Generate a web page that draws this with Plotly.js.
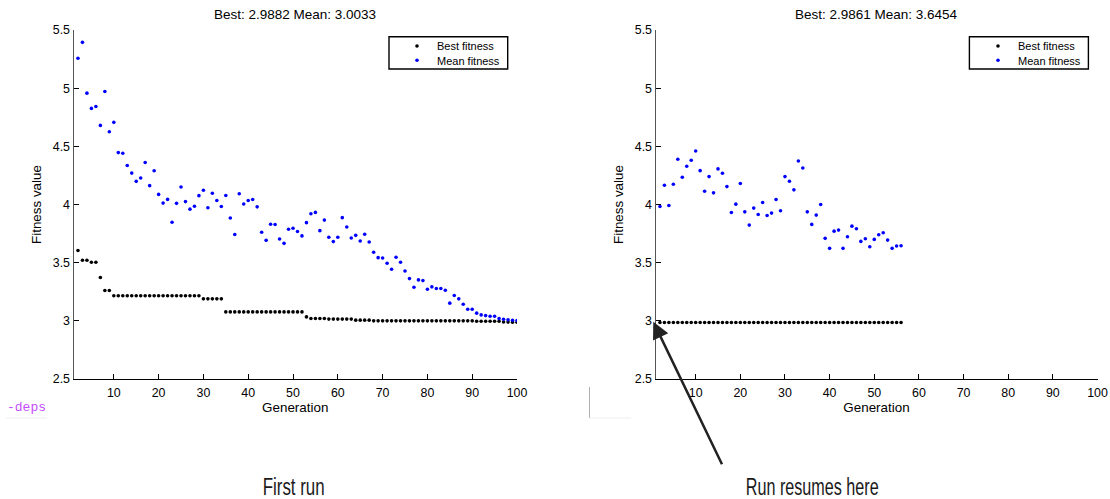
<!DOCTYPE html>
<html><head><meta charset="utf-8">
<script src="https://cdn.plot.ly/plotly-3.0.1.min.js"></script>
<style>html,body{margin:0;padding:0;background:#fff;} #chart{width:1110px;height:499px;}</style>
</head><body><div id="chart"></div>
<script>
// ---- Data ----
const firstRunGenerations = [
  2,3,4,5,6,7,8,9,10,11,
  12,13,14,15,16,17,18,19,20,21,
  22,23,24,25,26,27,28,29,30,31,
  32,33,34,35,36,37,38,39,40,41,
  42,43,44,45,46,47,48,49,50,51,
  52,53,54,55,56,57,58,59,60,61,
  62,63,64,65,66,67,68,69,70,71,
  72,73,74,75,76,77,78,79,80,81,
  82,83,84,85,86,87,88,89,90,91,
  92,93,94,95,96,97,98,99,100
];
const firstRunBest = [
  3.605,3.521,3.521,3.504,3.504,3.372,3.261,3.261,3.215,3.215,
  3.215,3.215,3.215,3.215,3.215,3.215,3.215,3.215,3.215,3.215,
  3.215,3.215,3.215,3.215,3.215,3.215,3.215,3.215,3.189,3.189,
  3.189,3.189,3.189,3.077,3.077,3.077,3.077,3.077,3.077,3.077,
  3.077,3.077,3.077,3.077,3.077,3.077,3.077,3.077,3.077,3.077,
  3.077,3.034,3.020,3.020,3.020,3.020,3.015,3.015,3.015,3.015,
  3.015,3.015,3.006,3.006,3.006,3.006,3.000,3.000,3.000,3.000,
  3.000,3.000,3.000,3.000,3.000,3.000,3.000,3.000,3.000,3.000,
  3.000,3.000,3.000,3.000,3.000,3.000,3.000,3.000,3.000,2.997,
  2.997,2.997,2.997,2.997,2.997,2.990,2.989,2.9885,2.9882
];
const firstRunMean = [
  5.257,5.394,4.957,4.826,4.843,4.680,4.971,4.626,4.706,4.446,
  4.440,4.335,4.270,4.199,4.228,4.361,4.162,4.290,4.087,4.012,
  4.044,3.848,4.010,4.150,4.025,3.960,3.985,4.076,4.122,3.972,
  4.097,4.034,3.983,4.078,3.884,3.742,4.092,4.004,4.034,4.043,
  3.980,3.761,3.692,3.830,3.828,3.703,3.666,3.787,3.796,3.768,
  3.730,3.844,3.921,3.932,3.775,3.866,3.718,3.681,3.718,3.887,
  3.806,3.712,3.735,3.686,3.744,3.678,3.589,3.543,3.540,3.495,
  3.443,3.546,3.503,3.429,3.363,3.289,3.352,3.346,3.272,3.292,
  3.278,3.278,3.263,3.152,3.218,3.189,3.143,3.100,3.100,3.066,
  3.051,3.045,3.039,3.040,3.020,3.014,3.009,3.004,3.0033
];
const resumedGenerations = [
  2,3,4,5,6,7,8,9,10,11,
  12,13,14,15,16,17,18,19,20,21,
  22,23,24,25,26,27,28,29,30,31,
  32,33,34,35,36,37,38,39,40,41,
  42,43,44,45,46,47,48,49,50,51,
  52,53,54,55,56
];
const resumedBest = [
  2.9861,2.9861,2.9861,2.9861,2.9861,2.9861,2.9861,2.9861,2.9861,2.9861,
  2.9861,2.9861,2.9861,2.9861,2.9861,2.9861,2.9861,2.9861,2.9861,2.9861,
  2.9861,2.9861,2.9861,2.9861,2.9861,2.9861,2.9861,2.9861,2.9861,2.9861,
  2.9861,2.9861,2.9861,2.9861,2.9861,2.9861,2.9861,2.9861,2.9861,2.9861,
  2.9861,2.9861,2.9861,2.9861,2.9861,2.9861,2.9861,2.9861,2.9861,2.9861,
  2.9861,2.9861,2.9861,2.9861,2.9861
];
const resumedMean = [
  3.983,4.166,3.991,4.174,4.389,4.234,4.329,4.380,4.460,4.291,
  4.114,4.240,4.100,4.306,4.269,4.154,3.931,4.003,4.180,3.937,
  3.823,3.969,3.914,4.017,3.906,3.926,4.043,3.946,4.240,4.200,
  4.126,4.374,4.314,3.937,3.829,3.909,4.000,3.709,3.623,3.771,
  3.780,3.623,3.723,3.814,3.791,3.683,3.706,3.637,3.700,3.740,
  3.757,3.694,3.623,3.643,3.6454
];
const xTickVals = [10,20,30,40,50,60,70,80,90,100];
const yTickVals = [2.5,3,3.5,4,4.5,5,5.5];
const yTickText = ['2.5','3','3.5','4','4.5','5','5.5'];
const titleLeft = 'Best: 2.9882 Mean: 3.0033';
const titleRight = 'Best: 2.9861 Mean: 3.6454';
const seriesNames = ['Best fitness','Mean fitness'];
const captionLeft = 'First run';
const captionRight = 'Run resumes here';

// ---- Styling ----
const W = 1110, H = 499;
const px = v => v / W;
const py = v => (H - v) / H;
const sans = 'Liberation Sans, Arial, Helvetica, sans-serif';
const narrow = 'Liberation Sans Narrow, Liberation Sans, sans-serif';
const mk = c => ({color: c, size: 3.6, symbol: 'circle'});

const traces = [
  {x: firstRunGenerations, y: firstRunBest, name: seriesNames[0], mode: 'markers', marker: mk('#000000'), xaxis: 'x', yaxis: 'y', legend: 'legend'},
  {x: firstRunGenerations, y: firstRunMean, name: seriesNames[1], mode: 'markers', marker: mk('#0000ff'), xaxis: 'x', yaxis: 'y', legend: 'legend2'},
  {x: resumedGenerations, y: resumedBest, name: seriesNames[0], mode: 'markers', marker: mk('#000000'), xaxis: 'x2', yaxis: 'y2', legend: 'legend3'},
  {x: resumedGenerations, y: resumedMean, name: seriesNames[1], mode: 'markers', marker: mk('#0000ff'), xaxis: 'x2', yaxis: 'y2', legend: 'legend4'}
];

function xAx(domain, anchor) {
  return {domain, anchor, range: [1, 100], tickmode: 'array', tickvals: xTickVals,
    ticks: 'inside', ticklen: 5, tickcolor: '#000', tickwidth: 1,
    showline: true, linecolor: '#000', linewidth: 1, showgrid: false, zeroline: false,
    tickfont: {family: sans, size: 12.4, color: '#000'}, ticklabelstandoff: 2,
    title: {text: 'Generation', font: {family: sans, size: 13.4, color: '#000'}, standoff: 1}};
}
function yAx(anchor) {
  return {domain: [py(379), py(30)], anchor, range: [2.5, 5.5], tickmode: 'array',
    tickvals: yTickVals, ticktext: yTickText,
    ticks: 'inside', ticklen: 5, tickcolor: '#000', tickwidth: 1,
    showline: true, linecolor: '#555', linewidth: 1, showgrid: false, zeroline: false,
    tickfont: {family: sans, size: 12.4, color: '#000'},
    title: {text: 'Fitness value', font: {family: sans, size: 13.4, color: '#000'}, standoff: 8}};
}
const legendStyle = (xPix, yPix) => ({x: px(xPix), y: py(yPix), xanchor: 'left', yanchor: 'middle',
  bgcolor: 'rgba(0,0,0,0)', borderwidth: 0, font: {family: sans, size: 11, color: '#000'},
  itemwidth: 30});

const layout = {
  width: W, height: H, margin: {l: 0, r: 0, t: 0, b: 0},
  paper_bgcolor: '#fff', plot_bgcolor: '#fff', showlegend: true,
  font: {family: sans, size: 12, color: '#000'},
  xaxis: xAx([px(73.5), px(517)], 'y'),
  yaxis: yAx('x'),
  xaxis2: xAx([px(655.5), px(1097.5)], 'y2'),
  yaxis2: yAx('x2'),
  legend: legendStyle(397, 46),
  legend2: legendStyle(397, 60.3),
  legend3: legendStyle(978, 46),
  legend4: legendStyle(978, 60.3),
  annotations: [
    {text: titleLeft, xref: 'paper', yref: 'paper', x: px(295.25), y: py(14.3), showarrow: false, xanchor: 'center', yanchor: 'middle', font: {family: sans, size: 13.5, color: '#000'}},
    {text: titleRight, xref: 'paper', yref: 'paper', x: px(876.5), y: py(14.3), showarrow: false, xanchor: 'center', yanchor: 'middle', font: {family: sans, size: 13.5, color: '#000'}},
    {text: captionLeft, xref: 'paper', yref: 'paper', x: px(293), y: py(486), showarrow: false, xanchor: 'center', yanchor: 'middle', font: {family: narrow, size: 20, color: '#1a1a1a'}},
    {text: captionRight, xref: 'paper', yref: 'paper', x: px(812), y: py(486), showarrow: false, xanchor: 'center', yanchor: 'middle', font: {family: narrow, size: 20, color: '#1a1a1a'}},
    {text: '-deps', xref: 'paper', yref: 'paper', x: px(5), y: py(407), showarrow: false, xanchor: 'left', yanchor: 'middle', font: {family: 'Liberation Mono, DejaVu Sans Mono, monospace', size: 13, color: '#c54cff'}},
    {text: '', xref: 'paper', yref: 'paper', x: px(653.3), y: py(321.7), ax: 69.4, ay: 144, showarrow: true, arrowhead: 2, arrowsize: 1.35, arrowwidth: 2.5, arrowcolor: '#222'}
  ],
  shapes: [
    {type: 'rect', xref: 'paper', yref: 'paper', x0: px(389), x1: px(507.7), y0: py(36.7), y1: py(69), line: {color: '#000', width: 1.4}, fillcolor: 'rgba(0,0,0,0)', layer: 'below'},
    {type: 'rect', xref: 'paper', yref: 'paper', x0: px(969.4), x1: px(1088.4), y0: py(36.7), y1: py(69), line: {color: '#000', width: 1.4}, fillcolor: 'rgba(0,0,0,0)', layer: 'below'},
    {type: 'line', xref: 'paper', yref: 'paper', x0: px(589.5), x1: px(589.5), y0: py(387), y1: py(418), line: {color: '#b0b0b0', width: 1}},
    {type: 'line', xref: 'paper', yref: 'paper', x0: px(589.5), x1: px(631), y0: py(418), y1: py(418), line: {color: '#eeeeee', width: 1}},
    {type: 'line', xref: 'paper', yref: 'paper', x0: px(6), x1: px(47), y0: py(418), y1: py(418), line: {color: '#eeeeee', width: 1}}
  ]
};

// Caption text in the reference uses a tall condensed face: squeeze the real text to its measured width.
const captionWidths = {};
captionWidths[captionLeft] = 62;
captionWidths[captionRight] = 133;
Plotly.newPlot('chart', traces, layout, {displayModeBar: false, staticPlot: true}).then(gd => {
  gd.querySelectorAll('text.annotation-text').forEach(t => {
    const tw = captionWidths[t.textContent];
    if (!tw) return;
    const bb = t.getBBox();
    if (!bb.width) return;
    const sx = tw / bb.width, sy = 1.22;
    const cx = bb.x + bb.width / 2, cy = bb.y + bb.height / 2;
    t.setAttribute('transform', `translate(${cx},${cy}) scale(${sx},${sy}) translate(${-cx},${-cy})`);
  });
});
</script>
</body></html>
